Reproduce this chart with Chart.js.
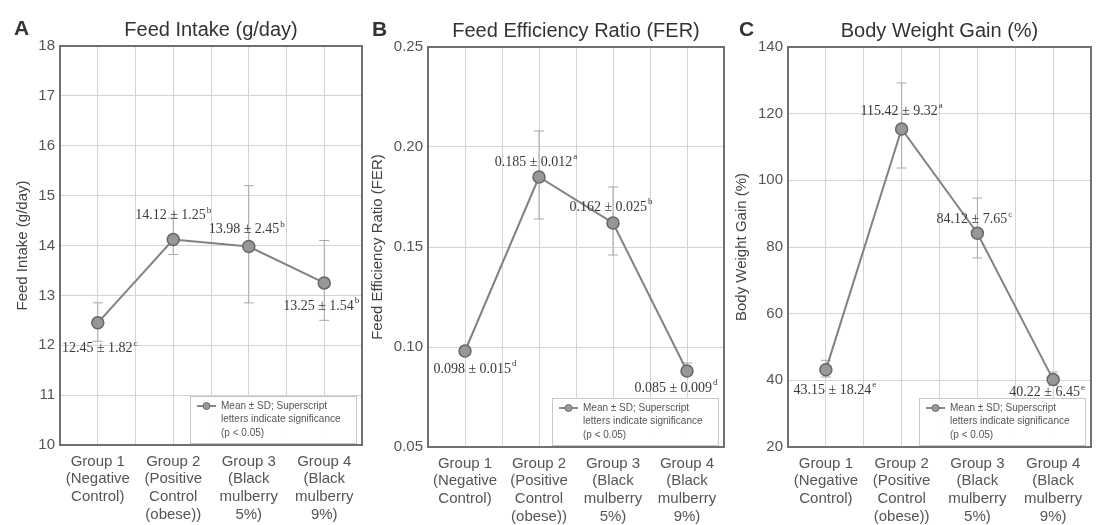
<!DOCTYPE html>
<html>
<head>
<meta charset="utf-8">
<script src="https://cdn.jsdelivr.net/npm/chart.js@4/dist/chart.umd.min.js"></script>
<style>
  html, body { margin: 0; background: #fff; overflow: hidden; }
  canvas { position: absolute; top: 0; }
</style>
</head>
<body>
<canvas id="panelA" width="370" height="525" style="left:0"></canvas>
<canvas id="panelB" width="367" height="525" style="left:365px"></canvas>
<canvas id="panelC" width="372" height="525" style="left:727px"></canvas>
<script>
// --- DATA ---
const groupLabels = [
  ['Group 1', '(Negative', 'Control)'],
  ['Group 2', '(Positive', 'Control', '(obese))'],
  ['Group 3', '(Black', 'mulberry', '5%)'],
  ['Group 4', '(Black', 'mulberry', '9%)']
];

const feedIntake = [12.45, 14.12, 13.98, 13.25];
const feedIntakeLow = [12.08, 13.82, 12.85, 12.5];
const feedIntakeHigh = [12.85, 14.55, 15.2, 14.1];
const feedIntakeText = ['12.45 ± 1.82', '14.12 ± 1.25', '13.98 ± 2.45', '13.25 ± 1.54'];
const feedIntakeSup = ['c', 'b', 'b', 'b'];

const fer = [0.098, 0.185, 0.162, 0.088];
const ferLow = [0.096, 0.164, 0.146, 0.086];
const ferHigh = [0.100, 0.208, 0.180, 0.092];
const ferText = ['0.098 ± 0.015', '0.185 ± 0.012', '0.162 ± 0.025', '0.085 ± 0.009'];
const ferSup = ['d', 'a', 'b', 'd'];

const bwg = [43.15, 115.42, 84.12, 40.22];
const bwgLow = [41, 103.7, 76.7, 38.5];
const bwgHigh = [46, 129.2, 94.7, 42.5];
const bwgText = ['43.15 ± 18.24', '115.42 ± 9.32', '84.12 ± 7.65', '40.22 ± 6.45'];
const bwgSup = ['e', 'a', 'c', 'e'];

const legendLines = ['Mean ± SD; Superscript', 'letters indicate significance', '(p < 0.05)'];

const SANS = '"Liberation Sans", Arial, sans-serif';
const SERIF = '"Liberation Serif", "Times New Roman", serif';

// Builds one panel: line + error bars + labels + inset legend
function makePanel(canvasId, p) {
  const extras = {
    id: 'extras',
    beforeDatasetsDraw(chart) {
      const { ctx, scales: { x, y } } = chart;
      ctx.save();
      ctx.strokeStyle = '#a8a8a8';
      ctx.lineWidth = 1;
      p.low.forEach((lo, i) => {
        const px = x.getPixelForValue(i + 1);
        const y1 = y.getPixelForValue(lo);
        const y2 = y.getPixelForValue(p.high[i]);
        ctx.beginPath();
        ctx.moveTo(px, y1); ctx.lineTo(px, y2);
        ctx.moveTo(px - 5, y1); ctx.lineTo(px + 5, y1);
        ctx.moveTo(px - 5, y2); ctx.lineTo(px + 5, y2);
        ctx.stroke();
      });
      ctx.restore();
    },
    afterDraw(chart) {
      const { ctx, chartArea: a, scales: { x, y } } = chart;
      ctx.save();

      // frame round the plot
      ctx.strokeStyle = '#707070';
      ctx.lineWidth = 2;
      ctx.strokeRect(a.left, a.top, a.right - a.left, a.bottom - a.top);

      // panel title and letter
      ctx.fillStyle = '#333';
      ctx.textBaseline = 'middle';
      ctx.textAlign = 'center';
      ctx.font = '20px ' + SANS;
      ctx.fillText(p.title, (a.left + a.right) / 2, a.top - 16);
      ctx.textAlign = 'left';
      ctx.font = 'bold 21px ' + SANS;
      ctx.fillText(p.letter, p.letterX, a.top - 17);

      // mean ± SD labels with superscript letters
      ctx.fillStyle = '#3a3a3a';
      p.values.forEach((v, i) => {
        const cx = x.getPixelForValue(i + 1) + p.offsets[i][0];
        const cy = y.getPixelForValue(v) + p.offsets[i][1];
        ctx.font = '14px ' + SERIF;
        const w = ctx.measureText(p.text[i]).width;
        ctx.font = '9px ' + SERIF;
        const ws = ctx.measureText(p.sup[i]).width;
        const x0 = cx - (w + ws + 1) / 2;
        ctx.font = '14px ' + SERIF;
        ctx.fillText(p.text[i], x0, cy);
        ctx.font = '9px ' + SERIF;
        ctx.fillText(p.sup[i], x0 + w + 1, cy - 5);
      });

      // legend box inside the plot, bottom right
      const bw = 166, bh = 47;
      const bx = a.right - 6 - bw, by = a.bottom - 2 - bh;
      ctx.fillStyle = 'rgba(255,255,255,0.92)';
      ctx.fillRect(bx, by, bw, bh);
      ctx.strokeStyle = '#c8c8c8';
      ctx.lineWidth = 1;
      ctx.strokeRect(bx + 0.5, by + 0.5, bw, bh);
      ctx.strokeStyle = '#888';
      ctx.lineWidth = 2;
      ctx.beginPath();
      ctx.moveTo(bx + 7, by + 10); ctx.lineTo(bx + 26, by + 10);
      ctx.stroke();
      ctx.fillStyle = '#9a9a9a';
      ctx.strokeStyle = '#6a6a6a';
      ctx.lineWidth = 1;
      ctx.beginPath();
      ctx.arc(bx + 16.5, by + 10, 3.5, 0, Math.PI * 2);
      ctx.fill(); ctx.stroke();
      ctx.fillStyle = '#555';
      ctx.font = '10px ' + SANS;
      legendLines.forEach((t, k) => ctx.fillText(t, bx + 31, by + 10 + k * 13.5));

      ctx.restore();
    }
  };

  return new Chart(document.getElementById(canvasId), {
    type: 'line',
    data: {
      datasets: [{
        data: p.values.map((v, i) => ({ x: i + 1, y: v })),
        borderColor: '#828282',
        borderWidth: 2,
        pointRadius: 6,
        pointBackgroundColor: '#979797',
        pointBorderColor: '#666',
        pointBorderWidth: 1.5
      }]
    },
    options: {
      responsive: false,
      animation: false,
      layout: { padding: { top: p.top, right: 0, left: 0, bottom: 0 } },
      plugins: { legend: { display: false }, tooltip: { enabled: false } },
      scales: {
        x: {
          type: 'linear',
          min: 0.5, max: 4.5,
          afterFit: (s) => { s.height = p.bottomH; },
          grid: { color: '#d4d4d4', lineWidth: 1, drawTicks: false },
          border: { color: '#707070', width: 2 },
          ticks: {
            stepSize: 0.5,
            autoSkip: false,
            maxRotation: 0,
            padding: 8,
            color: '#555',
            font: { family: SANS, size: 15, lineHeight: 1.17 },
            callback: (v) => Number.isInteger(v) ? groupLabels[v - 1] : ''
          }
        },
        y: {
          min: p.min, max: p.max,
          afterFit: (s) => { s.width = p.leftW; },
          grid: { color: '#d4d4d4', lineWidth: 1, drawTicks: false },
          border: { color: '#707070', width: 2 },
          ticks: {
            stepSize: p.step,
            padding: 5,
            color: '#555',
            font: { family: SANS, size: 15 },
            callback: (v) => p.decimals ? v.toFixed(p.decimals) : v
          },
          title: {
            display: true,
            text: p.yTitle,
            color: '#444',
            font: { family: SANS, size: 15 },
            padding: { top: p.yTitlePad, bottom: 0 }
          }
        }
      }
    },
    plugins: [extras]
  });
}

makePanel('panelA', {
  values: feedIntake, low: feedIntakeLow, high: feedIntakeHigh,
  text: feedIntakeText, sup: feedIntakeSup,
  offsets: [[2, 26], [0, -24], [-2, -17], [-3, 23]],
  title: 'Feed Intake (g/day)', letter: 'A', letterX: 14,
  yTitle: 'Feed Intake (g/day)', yTitlePad: 14,
  min: 10, max: 18, step: 1, decimals: 0,
  top: 46, leftW: 60, bottomH: 80
});

makePanel('panelB', {
  values: fer, low: ferLow, high: ferHigh,
  text: ferText, sup: ferSup,
  offsets: [[10, 18], [-3, -15], [-2, -16], [-11, 17]],
  title: 'Feed Efficiency Ratio (FER)', letter: 'B', letterX: 7,
  yTitle: 'Feed Efficiency Ratio (FER)', yTitlePad: 4,
  min: 0.05, max: 0.25, step: 0.05, decimals: 2,
  top: 47, leftW: 63, bottomH: 78
});

makePanel('panelC', {
  values: bwg, low: bwgLow, high: bwgHigh,
  text: bwgText, sup: bwgSup,
  offsets: [[9, 20], [0, -18], [-3, -14], [-6, 13]],
  title: 'Body Weight Gain (%)', letter: 'C', letterX: 12,
  yTitle: 'Body Weight Gain (%)', yTitlePad: 6,
  min: 20, max: 140, step: 20, decimals: 0,
  top: 47, leftW: 61, bottomH: 78
});
</script>
</body>
</html>
